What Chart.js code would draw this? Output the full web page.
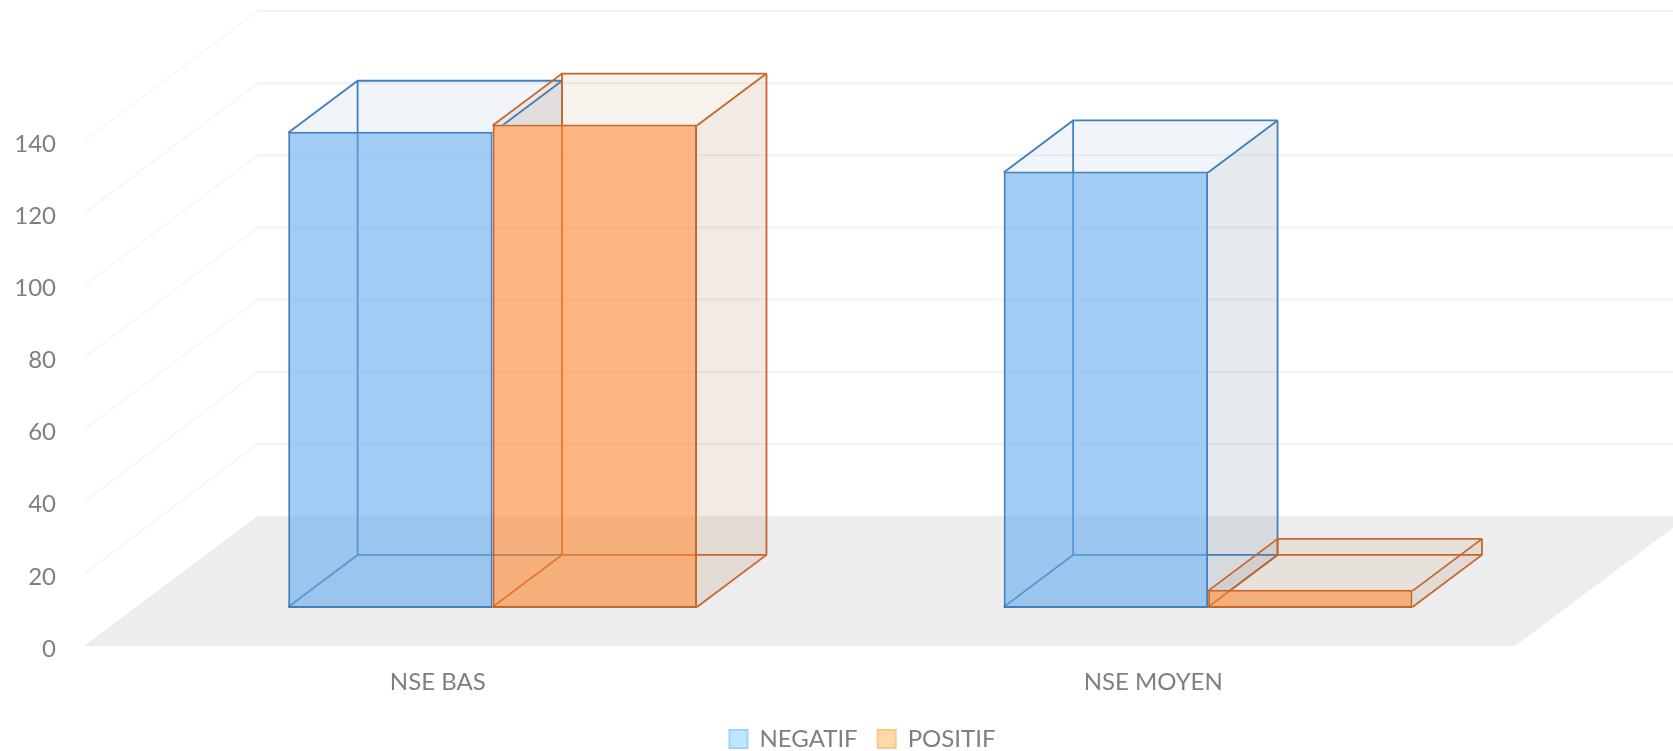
<!DOCTYPE html>
<html>
<head>
<meta charset="utf-8">
<title>NSE</title>
<script src="https://cdn.jsdelivr.net/npm/chart.js@4"></script>
<style>
  html, body { margin: 0; padding: 0; background: #ffffff; }
  canvas { display: block; }
</style>
</head>
<body>
<canvas id="chart" width="1673" height="751"></canvas>
<script>
const categories = ['NSE BAS', 'NSE MOYEN'];
const negatif = [132, 121];
const positif = [134, 5];
const yMax = 140;
const yStep = 20;

// the fake 3d: how far the floor goes back, and where the bars stand on it
const depthX = 173.6;
const depthY = -130;
const barGap = 0.293;
const barDepth = 0.4;

const looks = [
    { line: '#3f80c0', side: 'rgba(60,90,120,0.13)', top: 'rgba(60,100,160,0.07)' },
    { line: '#c8662a', side: 'rgba(140,60,20,0.11)', top: 'rgba(170,90,30,0.08)' },
];

const path = (ctx, pts) => {
    ctx.beginPath();
    pts.forEach((p, i) => i ? ctx.lineTo(p[0], p[1]) : ctx.moveTo(p[0], p[1]));
};

// floor and grid lines, they follow the y scale
const drawFloor = (chart) => {
    const { ctx, chartArea, scales } = chart;
    const { left, right } = chartArea;
    const y0 = scales.y.getPixelForValue(0);
    path(ctx, [[left, y0], [right, y0], [right + depthX, y0 + depthY], [left + depthX, y0 + depthY]]);
    ctx.closePath();
    ctx.fillStyle = '#ededed';
    ctx.fill();
    ctx.lineWidth = 2;
    scales.y.ticks.forEach((t) => {
        if (t.value === 0) return;
        const y = scales.y.getPixelForValue(t.value);
        path(ctx, [[left, y], [left + depthX, y + depthY]]);
        ctx.strokeStyle = '#f7f7f7';
        ctx.stroke();
        path(ctx, [[left + depthX, y + depthY], [right + depthX, y + depthY]]);
        ctx.strokeStyle = '#f2f2f2';
        ctx.stroke();
    });
};

// side, top and hidden edges of a bar, the library paints the front face over them
// cover is the neighbour bar: the side of this one does not show through its front
const drawBack = (ctx, el, look, cover) => {
    const dx = depthX * barDepth;
    const dy = depthY * barDepth;
    const b = el.getProps(['x', 'y', 'base', 'width'], true);
    const l = b.x - b.width / 2;
    const r = b.x + b.width / 2;
    const t = b.y + 1;
    const f = b.base - 1;
    ctx.save();
    if (cover) {
        const c = cover.getProps(['x', 'y', 'base', 'width'], true);
        ctx.beginPath();
        ctx.rect(0, 0, chartWidth, chartHeight);
        ctx.rect(c.x - c.width / 2, c.y, c.width, c.base - c.y);
        ctx.clip('evenodd');
    }
    path(ctx, [[r, t], [r + dx, t + dy], [r + dx, f + dy], [r, f]]);
    ctx.closePath();
    ctx.fillStyle = look.side;
    ctx.fill();
    ctx.strokeStyle = look.line;
    ctx.lineWidth = 1.8;
    path(ctx, [[r + dx, t + dy], [r + dx, f + dy], [r, f]]);
    ctx.stroke();
    path(ctx, [[r, t], [r + dx, t + dy]]);
    ctx.stroke();
    ctx.restore();
    path(ctx, [[l, t], [r, t], [r + dx, t + dy], [l + dx, t + dy]]);
    ctx.closePath();
    ctx.fillStyle = look.top;
    ctx.fill();
    ctx.strokeStyle = look.line;
    ctx.lineWidth = 1.8;
    path(ctx, [[r + dx, t + dy], [l + dx, t + dy], [l, t]]);
    ctx.stroke();
    path(ctx, [[l, f], [l + dx, f + dy], [r + dx, f + dy]]);
    ctx.stroke();
    path(ctx, [[l + dx, t + dy], [l + dx, f + dy]]);
    ctx.stroke();
};

const chartWidth = 1673;
const chartHeight = 751;

const floorAndBoxes = {
    id: 'floorAndBoxes',
    // own draw loop: POSITIF has to land on top of NEGATIF, and bars stand back on the floor
    beforeDatasetsDraw(chart) {
        const { ctx } = chart;
        ctx.save();
        drawFloor(chart);
        ctx.translate(depthX * barGap, depthY * barGap);
        [0, 1].forEach((i) => {
            const meta = chart.getDatasetMeta(i);
            const next = i === 0 ? chart.getDatasetMeta(1) : null;
            meta.data.forEach((el, k) => drawBack(ctx, el, looks[i], next && next.data[k]));
            meta.controller.draw();
        });
        ctx.restore();
        return false;
    },
    // legend sits in the middle of the page and not of the plot
    afterLayout(chart) {
        chart.legend.left += 105;
        chart.legend.right += 105;
        chart.legend.top += 10;
        chart.legend.bottom += 10;
    },
};

new Chart(document.getElementById('chart').getContext('2d'), {
    type: 'bar',
    plugins: [floorAndBoxes],
    data: {
        labels: categories,
        datasets: [
            {
                label: 'NEGATIF',
                data: negatif,
                backgroundColor: 'rgba(100,170,235,0.6)',
                borderColor: looks[0].line,
            },
            {
                label: 'POSITIF',
                data: positif,
                backgroundColor: 'rgba(250,133,45,0.6)',
                borderColor: looks[1].line,
            },
        ],
    },
    options: {
        responsive: false,
        animation: false,
        devicePixelRatio: 1,
        categoryPercentage: 0.5714,
        barPercentage: 1,
        borderWidth: 2,
        borderSkipped: false,
        inflateAmount: 0,
        layout: { padding: { top: 141, right: 158, left: 0, bottom: 0 } },
        scales: {
            x: {
                grid: { display: false, drawTicks: false },
                border: { display: false },
                ticks: { color: '#7f7f7f', font: { family: 'Lato', size: 24 }, padding: 22, labelOffset: -4, maxRotation: 0 },
                afterFit: (s) => { s.height = 51; },
            },
            y: {
                min: 0,
                max: yMax,
                grid: { display: false, drawTicks: false },
                border: { display: false },
                ticks: { stepSize: yStep, color: '#7f7f7f', font: { family: 'Lato', size: 24 }, padding: 28, labelOffset: 3 },
                afterFit: (s) => { s.width = 84; },
            },
        },
        plugins: {
            tooltip: { enabled: false },
            legend: {
                position: 'bottom',
                labels: {
                    boxWidth: 18,
                    boxHeight: 18,
                    padding: 20,
                    color: '#7f7f7f',
                    font: { family: 'Lato', size: 24 },
                    generateLabels: () => [
                        { text: 'NEGATIF', datasetIndex: 0, fillStyle: '#bde8ff', strokeStyle: '#9fd3fa', lineWidth: 2, fontColor: '#7f7f7f' },
                        { text: 'POSITIF', datasetIndex: 1, fillStyle: '#ffd8a8', strokeStyle: '#fbc58c', lineWidth: 2, fontColor: '#7f7f7f' },
                    ],
                },
            },
        },
    },
});
</script>
</body>
</html>
